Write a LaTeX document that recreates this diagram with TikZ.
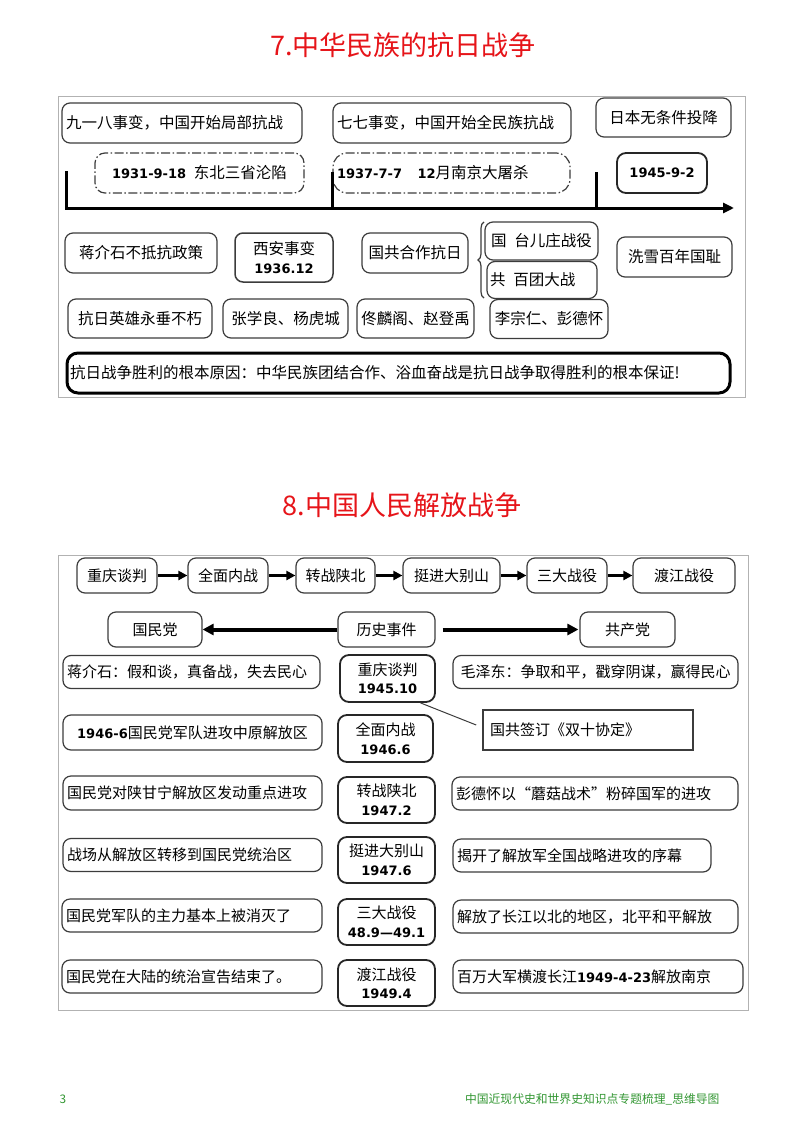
\documentclass[tikz,border=0pt]{standalone}
\usepackage{fontspec}
\setmainfont{Noto Sans CJK SC}
\newfontfamily\nf{DejaVu Sans}
\usetikzlibrary{arrows.meta,decorations.pathreplacing,calc}
\definecolor{titlered}{RGB}{230,20,25}
\definecolor{footgreen}{RGB}{50,150,50}
\definecolor{bd}{RGB}{60,60,60}
\newcommand{\dnum}[1]{{\nf\bfseries\fontsize{13}{16}\selectfont #1}}
\begin{document}
\begin{tikzpicture}[x=1pt,y=-1pt,
  box/.style={draw=bd, line width=1.2pt, rounded corners=8pt, inner sep=0pt, align=center, font=\fontsize{15.5}{19}\selectfont},
  boxb/.style={box, font=\fontsize{15}{18.5}\selectfont},
  bbox/.style={box, line width=1.8pt, draw=black!85, rounded corners=9pt},
  bboxb/.style={bbox, font=\fontsize{15}{18.5}\selectfont},
  ddbox/.style={box, dash pattern=on 9pt off 2.5pt on 1.5pt off 2.5pt, rounded corners=10pt},
  wh/.style 2 args={minimum width=#1pt, minimum height=#2pt},
  lt/.style={align=left, text width=#1pt, inner xsep=4pt},
  arr/.style={line width=3pt, -{Triangle[length=9pt,width=9pt]}},
  arrw/.style={line width=4pt, -{Triangle[length=11pt,width=11pt]}},
  frame/.style={draw=black!30, line width=0.6pt},
  ttl/.style={text=titlered, font=\fontsize{27}{30}\selectfont},
  foot/.style={text=footgreen, font=\fontsize{11.8}{14}\selectfont},
  ]
\useasboundingbox (0,0) rectangle (804,1137);

% ---------- titles ----------
\node[ttl] (title1) at (403,45) {7.中华民族的抗日战争};
\node[ttl] (title2) at (402,505) {8.中国人民解放战争};

% ---------- diagram 1 ----------
\draw[frame] (58,96) rectangle (745,397);

\node[box, wh={240}{40}, lt=232] (t1) at (182,123) {九一八事变，中国开始局部抗战};
\node[box, wh={238}{40}, lt=230] (t2) at (452,123) {七七事变，中国开始全民族抗战};
\node[box, wh={135}{39}] (t3) at (663.5,117.5) {日本无条件投降};
\node[ddbox, wh={209}{40}] (d1) at (199.5,173) {\dnum{1931-9-18}\enspace 东北三省沦陷};
\node[ddbox, wh={237}{40}, lt=229, rounded corners=14pt] (d2) at (451.5,173) {\dnum{1937-7-7}\quad\dnum{12}月南京大屠杀};
\node[bbox, wh={90}{40}] (t4) at (662,173) {\dnum{1945-9-2}};

% timeline
\coordinate (k1) at (66,171);
\coordinate (k0) at (66,208);
\coordinate (kend) at (734,208);
\coordinate (k2a) at (332,172);
\coordinate (k2b) at (332,208);
\coordinate (k3a) at (596,172);
\coordinate (k3b) at (596,208);
\draw[line width=3pt, line join=miter, -{Triangle[length=11pt,width=10pt]}] (k1) -- (k0) -- (kend);
\draw[line width=3pt] (k2a) -- (k2b);
\draw[line width=3pt] (k3a) -- (k3b);

\node[box, wh={152}{40}] (r1) at (141,253) {蒋介石不抵抗政策};
\node[box, line width=1.5pt, wh={98}{49}] (r2) at (284,257.5) {西安事变\\\dnum{1936.12}};
\node[box, wh={106}{40}] (r3) at (415,253) {国共合作抗日};
\node[box, wh={113}{38}] (r4) at (541.5,241) {国\enspace 台儿庄战役};
\node[box, wh={110}{37}, lt=104, inner xsep=3pt] (r5) at (542,280) {共\enspace 百团大战};
\node[box, wh={115}{40}] (r6) at (674.5,257) {洗雪百年国耻};
\coordinate (brb) at (484,298);
\coordinate (brt) at (484,222);
\draw[line width=1.2pt, draw=bd, decorate, decoration={brace, amplitude=6pt}] (brb) -- (brt);

\node[box, wh={144}{39}] (s1) at (140,318.5) {抗日英雄永垂不朽};
\node[box, wh={125}{39}] (s2) at (285.5,318.5) {张学良、杨虎城};
\node[box, wh={117}{39}] (s3) at (415.5,318.5) {佟麟阁、赵登禹};
\node[box, wh={118}{39}] (s4) at (549,319) {李宗仁、彭德怀};

\node[box, line width=3pt, draw=black, rounded corners=11pt, wh={663}{40}, lt=657, inner xsep=3pt] (root) at (398.5,373)
  {抗日战争胜利的根本原因：中华民族团结合作、浴血奋战是抗日战争取得胜利的根本保证!};

% ---------- diagram 2 ----------
\draw[frame] (58,555) rectangle (748,1010);

\node[boxb, wh={80}{35}] (a1) at (117,575.5) {重庆谈判};
\node[boxb, wh={80}{35}] (a2) at (228,575.5) {全面内战};
\node[boxb, wh={79}{35}] (a3) at (335.5,575.5) {转战陕北};
\node[boxb, wh={97}{35}] (a4) at (451.5,575.5) {挺进大别山};
\node[boxb, wh={80}{35}] (a5) at (567,575.5) {三大战役};
\node[boxb, wh={102}{35}] (a6) at (684,575.5) {渡江战役};
\draw[arr] (a1) -- (a2);
\draw[arr] (a2) -- (a3);
\draw[arr] (a3) -- (a4);
\draw[arr] (a4) -- (a5);
\draw[arr] (a5) -- (a6);

\node[boxb, wh={94}{35}] (b1) at (155,629.5) {国民党};
\node[boxb, wh={97}{35}] (b2) at (386.5,629.5) {历史事件};
\node[boxb, wh={95}{35}] (b3) at (627.5,629.5) {共产党};
\draw[arrw] (b2) -- (b1);
\draw[arrw, shorten <=7pt, shorten >=1pt] (b2) -- (b3);

\node[boxb, wh={257}{33}, lt=249] (c1) at (191.5,672) {蒋介石：假和谈，真备战，失去民心};
\node[bboxb, wh={95}{47}] (c2) at (387.5,678.5) {重庆谈判\\\dnum{1945.10}};
\node[boxb, wh={285}{33}] (c3) at (595.5,672) {毛泽东：争取和平，戳穿阴谋，赢得民心};

\node[draw=bd, line width=1.6pt, inner sep=0pt, wh={210}{40}, lt=196, inner xsep=7pt, font=\fontsize{15}{18.5}\selectfont] (call) at (588,730) {国共签订《双十协定》};
\draw[line width=1pt, draw=bd] ([xshift=33pt]c2.south) -- ([xshift=-6pt,yshift=5pt]call.west);

\node[boxb, wh={259}{35}] (dl) at (192.5,732.5) {\dnum{1946-6}国民党军队进攻中原解放区};
\node[bboxb, wh={95}{47}] (dc) at (385.5,738.5) {全面内战\\\dnum{1946.6}};

\node[boxb, wh={259}{34}, lt=251] (el) at (192.5,793) {国民党对陕甘宁解放区发动重点进攻};
\node[bboxb, wh={97}{46}] (ec) at (386.5,800) {转战陕北\\\dnum{1947.2}};
\node[boxb, wh={286}{33}, lt=278] (er) at (595,793.5) {彭德怀以“蘑菇战术”粉碎国军的进攻};

\node[boxb, wh={259}{33}, lt=251] (fl) at (192.5,855) {战场从解放区转移到国民党统治区};
\node[bboxb, wh={97}{46}] (fc) at (386.5,860) {挺进大别山\\\dnum{1947.6}};
\node[boxb, wh={258}{33}, lt=250] (fr) at (582,855.5) {揭开了解放军全国战略进攻的序幕};

\node[boxb, wh={260}{33}, lt=252] (gl) at (192,915.5) {国民党军队的主力基本上被消灭了};
\node[bboxb, wh={97}{46}] (gc) at (386.5,922) {三大战役\\\dnum{48.9—49.1}};
\node[boxb, wh={285}{33}, lt=277] (gr) at (595.5,916.5) {解放了长江以北的地区，北平和平解放};

\node[boxb, wh={260}{33}, lt=252] (hl) at (192,976.5) {国民党在大陆的统治宣告结束了。};
\node[bboxb, wh={97}{46}] (hc) at (386.5,983) {渡江战役\\\dnum{1949.4}};
\node[boxb, wh={290}{33}, lt=282] (hr) at (598,976.5) {百万大军横渡长江\dnum{1949-4-23}解放南京};

% ---------- footer ----------
\node[foot, anchor=west] (pg) at (56,1099) {3};
\node[foot, anchor=east] (ft) at (723,1099) {中国近现代史和世界史知识点专题梳理\_思维导图};
\end{tikzpicture}
\end{document}
